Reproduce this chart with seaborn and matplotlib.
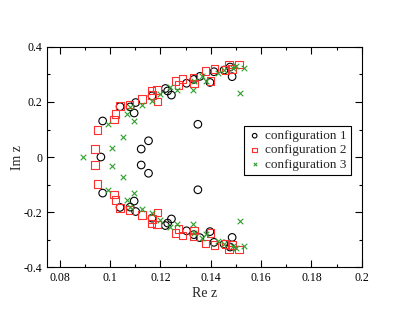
# %%
import numpy as np
import pandas as pd
import matplotlib
matplotlib.use('Agg')
import matplotlib.pyplot as plt
import seaborn as sns
from matplotlib.ticker import MultipleLocator, FormatStrFormatter

# %% data (upper half plane, mirrored below; real-axis points kept once)
c1_re = [0.0971, 0.104, 0.108, 0.1096, 0.1102, 0.1167, 0.122, 0.1229, 0.1244,
         0.1304, 0.1333, 0.1357, 0.1397, 0.1413, 0.1453, 0.1477, 0.1485,
         0.1153, 0.1124, 0.1349]
c1_im = [0.131, 0.183, 0.182, 0.160, 0.198, 0.222, 0.249, 0.240, 0.225,
         0.268, 0.282, 0.293, 0.271, 0.310, 0.316, 0.327, 0.292,
         0.059, 0.029, 0.119]
c1_real = [0.0964]

c2_re = [0.094, 0.0951, 0.1016, 0.1023, 0.104, 0.1077, 0.1127, 0.1164, 0.1167,
         0.1187, 0.1189, 0.126, 0.1273, 0.1287, 0.1332, 0.1333, 0.138, 0.140,
         0.1416, 0.146, 0.1473, 0.1484, 0.1513]
c2_im = [0.029, 0.098, 0.137, 0.156, 0.185, 0.192, 0.211, 0.241, 0.225,
         0.244, 0.201, 0.276, 0.262, 0.284, 0.289, 0.268, 0.313, 0.276,
         0.320, 0.316, 0.335, 0.320, 0.335]
c2_real = []

c3_re = [0.1007, 0.1051, 0.0994, 0.1096, 0.1067, 0.108, 0.1127, 0.1167, 0.120,
         0.1238, 0.1268, 0.1328, 0.1333, 0.1367, 0.138, 0.1428, 0.1451, 0.1487,
         0.150, 0.1534, 0.1517]
c3_im = [0.032, 0.072, 0.120, 0.131, 0.155, 0.180, 0.189, 0.205, 0.228,
         0.256, 0.245, 0.242, 0.275, 0.293, 0.278, 0.304, 0.316, 0.323,
         0.332, 0.323, 0.231]
c3_real = [0.0893]

labels = ['configuration 1', 'configuration 2', 'configuration 3']


def build(re, im, real, name):
    re = np.array(re)
    im = np.array(im)
    x = np.concatenate([re, re, real])
    y = np.concatenate([im, -im, np.zeros(len(real))])
    return pd.DataFrame({'re': x, 'im': y, 'config': name})


df = pd.concat([build(c1_re, c1_im, c1_real, labels[0]),
                build(c2_re, c2_im, c2_real, labels[1]),
                build(c3_re, c3_im, c3_real, labels[2])])

# %% plot
sns.set_style('ticks')
plt.rcParams['font.family'] = ['Liberation Serif', 'DejaVu Serif']
plt.rcParams['axes.unicode_minus'] = False

fig = plt.figure(figsize=(4.07, 3.15), dpi=100)
ax = fig.add_axes([0.1155, 0.152, 0.7735, 0.699])

styles = [dict(marker='o', facecolor='none', edgecolor='black', s=30, linewidth=0.8),
          dict(marker='s', facecolor='none', edgecolor='#ff3030', s=28, linewidth=0.8),
          dict(marker='x', color='#2ca02c', s=16, linewidth=0.8)]

for name, st in zip(labels, styles):
    sub = df[df['config'] == name]
    sns.scatterplot(data=sub, x='re', y='im', ax=ax, label=name, **st)

ax.set_xlim(0.075, 0.2)
ax.set_ylim(-0.4, 0.4)
ax.xaxis.set_major_locator(MultipleLocator(0.02))
ax.xaxis.set_minor_locator(MultipleLocator(0.01))
ax.yaxis.set_major_locator(MultipleLocator(0.2))
ax.yaxis.set_minor_locator(MultipleLocator(0.1))
ax.xaxis.set_major_formatter(FormatStrFormatter('%g'))
ax.yaxis.set_major_formatter(FormatStrFormatter('%g'))
ax.tick_params(which='both', direction='in', top=True, right=True,
               labelsize=8.5, width=0.8, colors='black')
ax.tick_params(which='major', length=5)
ax.tick_params(which='minor', length=2.5)
for sp in ax.spines.values():
    sp.set_linewidth(0.8)
    sp.set_color('black')

ax.set_xlabel('Re z', fontsize=10, labelpad=2)
ax.set_ylabel('Im z', fontsize=10, labelpad=0)

leg = ax.legend(loc='upper right', bbox_to_anchor=(0.965, 0.641), fontsize=9.5,
                frameon=True, fancybox=False, edgecolor='black', framealpha=1,
                handletextpad=0.3, borderpad=0.3, labelspacing=0.15,
                handlelength=1.0, markerscale=0.6, borderaxespad=0)
leg.get_frame().set_linewidth(0.8)

fig.savefig('out.png', dpi=100)
